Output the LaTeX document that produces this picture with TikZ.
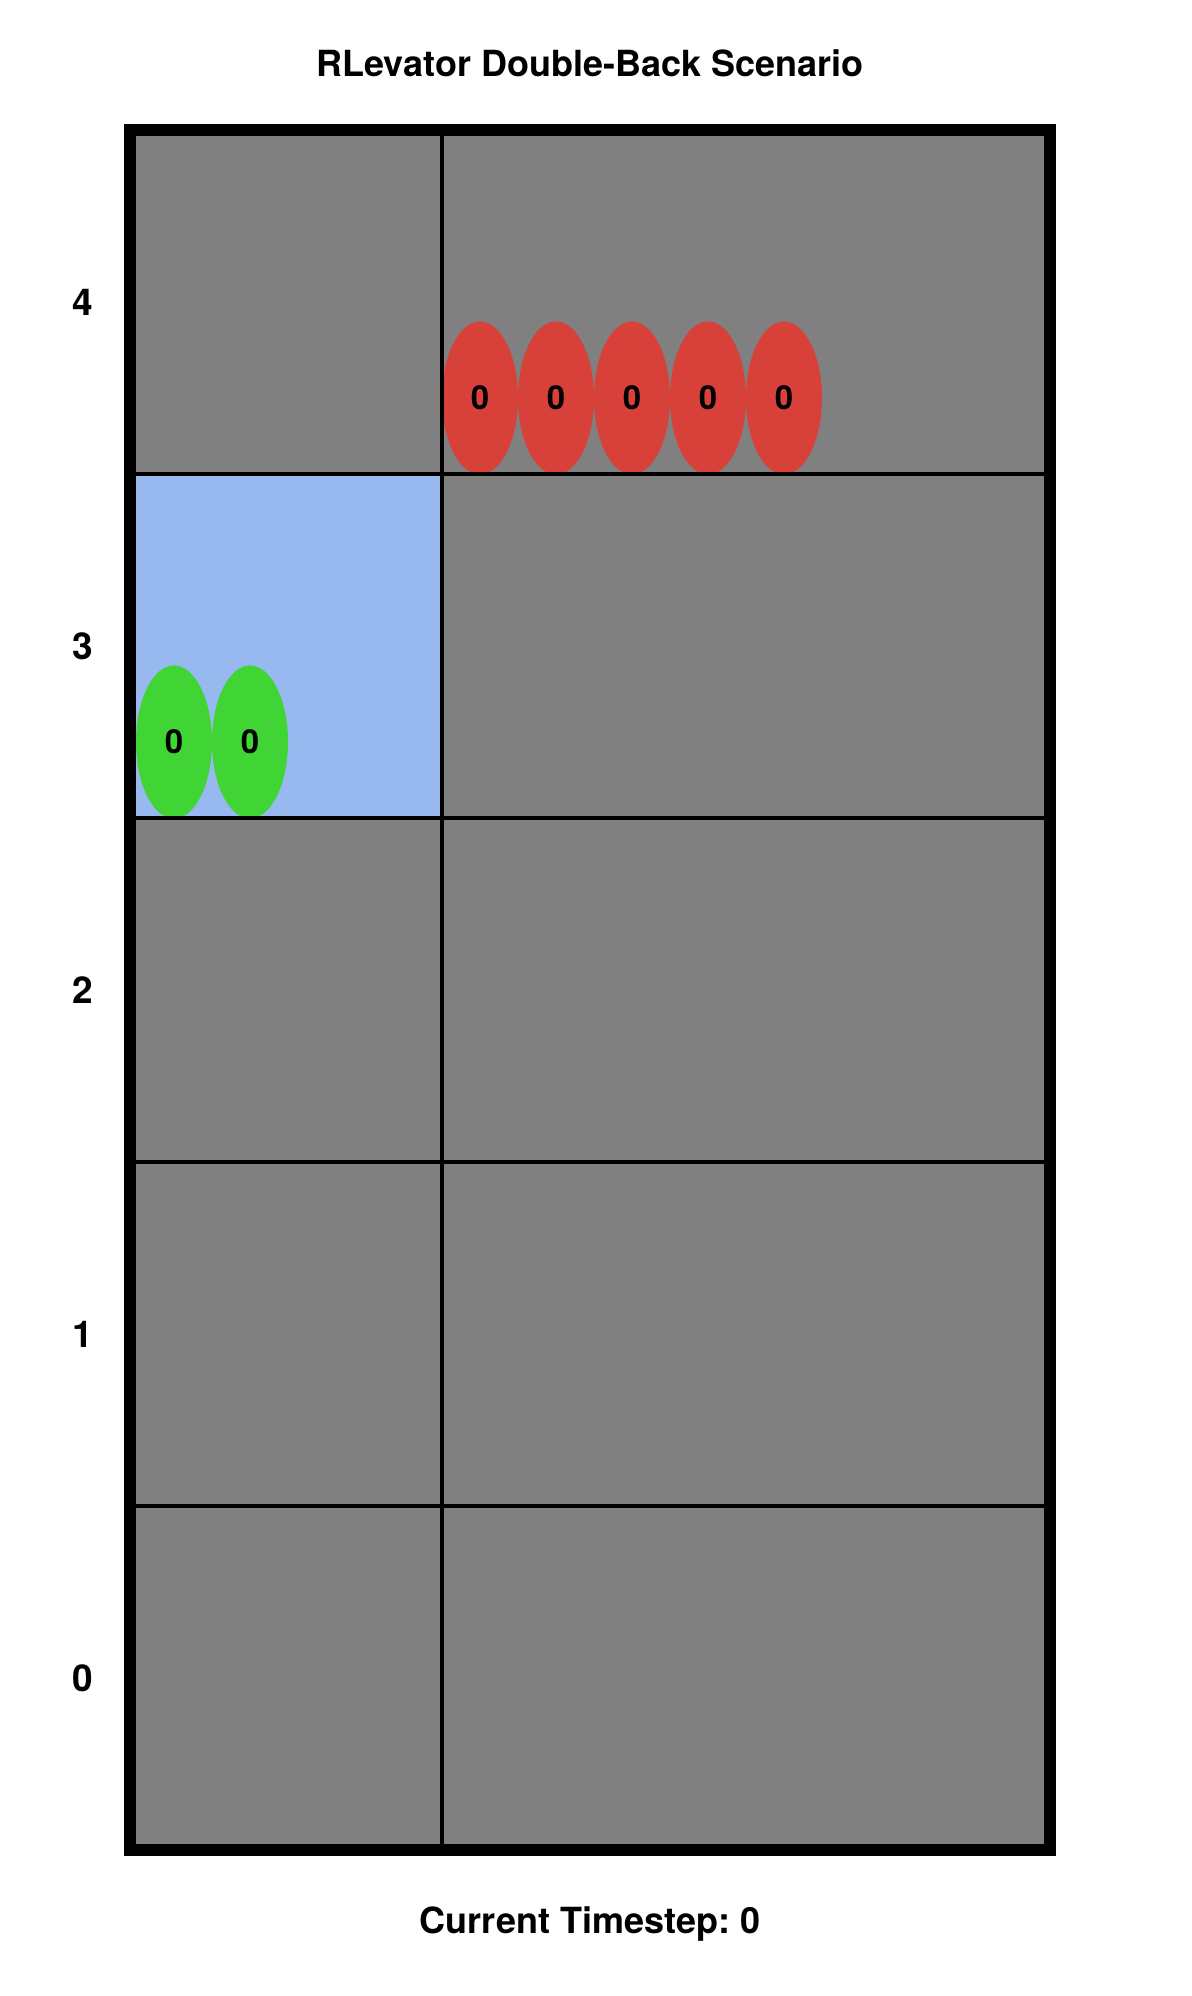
\documentclass[tikz,border=0pt]{standalone}
\usepackage{fontspec}
\setmainfont{TeX Gyre Heros}
\usepackage{tikz}
\usetikzlibrary{shapes.geometric}
\definecolor{cellgray}{RGB}{128,128,128}
\definecolor{lightblue}{RGB}{152,184,240}
\definecolor{agentred}{RGB}{216,64,58}
\definecolor{agentgreen}{RGB}{64,212,52}
\frenchspacing

\begin{document}
\begin{tikzpicture}[x=0.5pt, y=-0.5pt]
\tikzstyle{heading} = [font=\fontsize{18}{21}\selectfont\bfseries, anchor=base]
\tikzstyle{axislabel} = [font=\fontsize{18.5}{20}\selectfont\bfseries, anchor=base]
\tikzstyle{gridline} = [line width=2pt, black]
\tikzstyle{agent} = [ellipse, minimum width=38pt, minimum height=76.5pt, inner sep=0pt, font=\fontsize{16.5}{18}\selectfont\bfseries]
\tikzstyle{redagent} = [agent, fill=agentred]
\tikzstyle{greenagent} = [agent, fill=agentgreen]

\useasboundingbox (0,0) rectangle (1192,1996);
\fill[white] (0,0) rectangle (1192,1996);

% floors and elevator cell
\fill[cellgray] (130,130) rectangle (1050,1850);
\fill[lightblue] (136,474) rectangle (442,818);

% passengers
\foreach \i in {0,...,4}
  \node (red\i) [redagent] at ({480+76*\i},398) {0};
\foreach \i in {0,1}
  \node (green\i) [greenagent] at ({174+76*\i},742) {0};

% grid
\foreach \y in {474,818,1162,1506}
  \draw[gridline] (130,\y) -- (1050,\y);
\draw[gridline] (442,130) -- (442,1850);
\draw[line width=6pt] (130,130) rectangle (1050,1850);

% floor numbers
\foreach \f/\y in {4/302,3/646,2/990,1/1334,0/1678}
  \node (floor\f) [axislabel] at (83,{\y+13}) {\f};

\node (Title) [heading] at (590,77) {RLevator Double-Back Scenario};
\node (Timestep) [heading] at (590,1933) {Current Timestep: 0};
\end{tikzpicture}
\end{document}
